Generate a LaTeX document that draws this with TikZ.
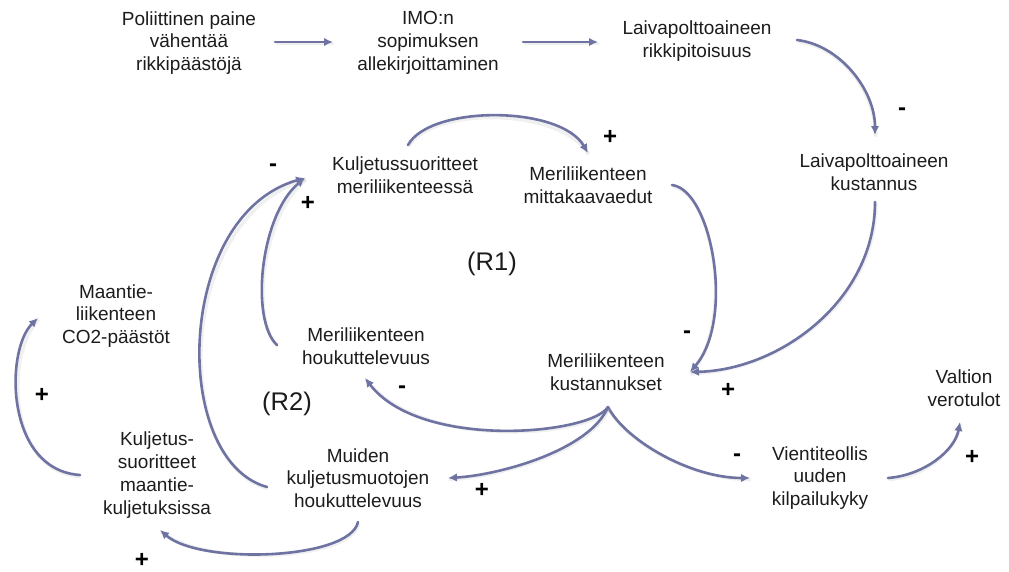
\documentclass[tikz,border=0pt]{standalone}
\usepackage{fontspec}
\setmainfont{Liberation Sans}
\usetikzlibrary{arrows.meta}
\definecolor{linkcol}{RGB}{110,115,162}
\definecolor{txtcol}{RGB}{28,28,28}
\begin{document}
\begin{tikzpicture}[x=1pt,y=-1pt,
  var/.style={align=center,font=\fontsize{19}{22.8}\selectfont,text=txtcol,inner sep=0pt},
  loopname/.style={font=\fontsize{25.5}{28}\selectfont,text=txtcol,inner sep=0pt},
  sign/.style={font=\bfseries\fontsize{24}{24}\selectfont,text=black,inner sep=0pt},
  link/.style={draw=linkcol,line width=2.6pt,line cap=round,
    -{Latex[length=9pt,width=8.5pt]},
    preaction={draw=black!30,opacity=0.2,line width=3.5pt,-,
      transform canvas={shift={(0.8pt,-1.6pt)}}}}
]
\useasboundingbox (0,0) rectangle (1009,571);

% variables
\node[var] (pol)  at (189,43)  {Poliittinen paine\\vähentää\\rikkipäästöjä};
\node[var] (imo)  at (428,43)  {IMO:n\\sopimuksen\\allekirjoittaminen};
\node[var] (rik)  at (697,41)  {Laivapolttoaineen\\rikkipitoisuus};
\node[var] (kust) at (874,172) {Laivapolttoaineen\\kustannus};
\node[var] (kmer) at (405,175) {Kuljetussuoritteet\\meriliikenteessä};
\node[var] (mitt) at (588,185) {Meriliikenteen\\mittakaavaedut};
\node[var] (mkus) at (606,372) {Meriliikenteen\\kustannukset};
\node[var] (valt) at (964,388) {Valtion\\verotulot};
\node[var] (vien) at (820,478) {Vientiteollis\\uuden\\kilpailukyky};
\node[var] (mhou) at (366,346) {Meriliikenteen\\houkuttelevuus};
\node[var] (muid) at (358,478) {Muiden\\kuljetusmuotojen\\houkuttelevuus};
\node[var] (kmaa) at (157,475) {Kuljetus-\\suoritteet\\maantie-\\kuljetuksissa};
\node[var] (co2)  at (116,316) {Maantie-\\liikenteen\\CO2-päästöt};

% loop names
\node[loopname] (r1) at (492,264) {(R1)};
\node[loopname] (r2) at (287,404) {(R2)};

% causal links
\draw[link] ([shift={(86,-1)}]pol.center) -- ([shift={(-95,-1)}]imo.center);
\draw[link] ([shift={(95,-1)}]imo.center) -- ([shift={(-99,1)}]rik.center);
\draw[link] ([shift={(100,-1)}]rik.center)
  .. controls (840,45) and (875,90) .. ([shift={(1,-37)}]kust.center);
\draw[link] ([shift={(3,-30)}]kmer.center)
  .. controls (430,105) and (560,105) .. ([shift={(0,-32)}]mitt.center);
\draw[link] ([shift={(84,0)}]mitt.center)
  .. controls (712,190) and (735,320) .. ([shift={(84,0)}]mkus.center);
\draw[link] ([shift={(1,30)}]kust.center)
  .. controls (875,300) and (780,370) .. ([shift={(84,0)}]mkus.center);
\draw[link] ([shift={(2,35)}]mkus.center)
  .. controls (625,440) and (690,478) .. ([shift={(-70,0)}]vien.center);
\draw[link] ([shift={(68,0)}]vien.center)
  .. controls (925,475) and (955,450) .. ([shift={(-4,34)}]valt.center);
\draw[link] ([shift={(2,35)}]mkus.center)
  .. controls (590,435) and (420,450) .. ([shift={(-1,32)}]mhou.center);
\draw[link] ([shift={(2,35)}]mkus.center)
  .. controls (590,450) and (500,475) .. ([shift={(90,0)}]muid.center);
\draw[link] ([shift={(-89,-1)}]mhou.center)
  .. controls (250,320) and (260,215) .. ([shift={(-100,3)}]kmer.center);
\draw[link] ([shift={(-91,9)}]muid.center)
  .. controls (170,460) and (175,215) .. ([shift={(-100,3)}]kmer.center);
\draw[link] ([shift={(0,44)}]muid.center)
  .. controls (350,560) and (200,565) .. ([shift={(3,55)}]kmaa.center);
\draw[link] ([shift={(-77,0)}]kmaa.center)
  .. controls (5,470) and (5,350) .. ([shift={(-78,2)}]co2.center);

% link polarities
\node[sign] (s1)  at (902,112) {-};
\node[sign] (s2)  at (610,137) {+};
\node[sign] (s3)  at (687,335) {-};
\node[sign] (s4)  at (728,390) {+};
\node[sign] (s5)  at (972,457) {+};
\node[sign] (s6)  at (737,458) {-};
\node[sign] (s7)  at (402,390) {-};
\node[sign] (s8)  at (482,490) {+};
\node[sign] (s9)  at (308,203) {+};
\node[sign] (s10) at (273,168) {-};
\node[sign] (s11) at (142,560) {+};
\node[sign] (s12) at (42,395)  {+};
\end{tikzpicture}
\end{document}
